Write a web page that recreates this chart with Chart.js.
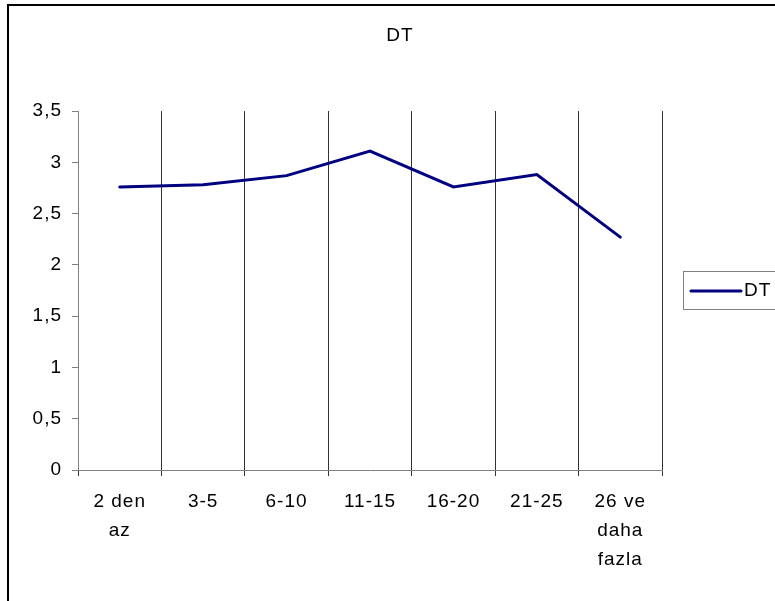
<!DOCTYPE html>
<html>
<head>
<meta charset="utf-8">
<script src="https://cdn.jsdelivr.net/npm/chart.js@4"></script>
<style>
  html, body { margin: 0; padding: 0; background: #fff; }
  #wrap { width: 775px; height: 601px; }
</style>
</head>
<body>
<div id="wrap"><canvas id="chart" width="775" height="601"></canvas></div>
<script>
const categories = [['2 den', 'az'], '3-5', '6-10', '11-15', '16-20', '21-25', ['26 ve', 'daha', 'fazla']];
const dtValues = [2.76, 2.78, 2.87, 3.11, 2.76, 2.88, 2.27];
const seriesName = 'DT';

const FONT = 'Liberation Sans, Arial, sans-serif';

// white background, excel-ish wide text, frame (only left/top visible)
const frame = {
    id: 'frame',
    beforeDraw(chart) {
        const { ctx, width, height } = chart;
        ctx.fillStyle = '#fff';
        ctx.fillRect(0, 0, width, height);
        ctx.letterSpacing = '1px';
    },
    afterDraw(chart) {
        const { ctx, width, height } = chart;
        ctx.save();
        ctx.strokeStyle = '#000';
        ctx.lineWidth = 2;
        ctx.beginPath();
        ctx.moveTo(8, height);
        ctx.lineTo(8, 5);
        ctx.lineTo(width, 5);
        ctx.stroke();
        ctx.restore();
    }
};

// title centred on the whole picture + legend box on the right
const sideLegend = {
    id: 'sideLegend',
    afterDraw(chart) {
        const { ctx } = chart;
        const ds = chart.data.datasets[0];
        ctx.save();
        ctx.fillStyle = '#000';
        ctx.font = '19px ' + FONT;
        ctx.textAlign = 'center';
        ctx.textBaseline = 'middle';
        ctx.fillText(ds.label, 400, 36);

        ctx.strokeStyle = '#808080';
        ctx.lineWidth = 1;
        ctx.strokeRect(683.5, 271.5, 100, 38);
        ctx.strokeStyle = ds.borderColor;
        ctx.lineWidth = 3;
        ctx.lineCap = 'round';
        ctx.beginPath();
        ctx.moveTo(691, 291);
        ctx.lineTo(741, 291);
        ctx.stroke();
        ctx.textAlign = 'left';
        ctx.fillText(ds.label, 744, 291);
        ctx.restore();
    }
};

new Chart(document.getElementById('chart').getContext('2d'), {
    type: 'line',
    data: {
        labels: categories,
        datasets: [{
            label: seriesName,
            data: dtValues,
            borderColor: '#000080',
            borderWidth: 3,
            borderCapStyle: 'round',
            borderJoinStyle: 'miter',
            pointRadius: 0,
            pointHoverRadius: 0,
            tension: 0,
            fill: false
        }]
    },
    options: {
        responsive: false,
        animation: false,
        layout: { padding: { left: 0, right: 113, top: 111, bottom: 0 } },
        plugins: {
            legend: { display: false },
            tooltip: { enabled: false },
            title: { display: false }
        },
        scales: {
            x: {
                offset: true,
                grid: {
                    offset: true,
                    color: '#333',
                    lineWidth: 1,
                    tickLength: 6,
                    drawOnChartArea: true
                },
                border: { color: '#808080', width: 1 },
                ticks: {
                    color: '#000',
                    font: { family: FONT, size: 19, lineHeight: 1.53 },
                    padding: 11,
                    maxRotation: 0,
                    autoSkip: false
                },
                afterFit(scale) { scale.height = 131; }
            },
            y: {
                min: 0,
                max: 3.5,
                grid: {
                    drawOnChartArea: false,
                    color: '#808080',
                    tickLength: 6
                },
                border: { color: '#808080', width: 1 },
                ticks: {
                    stepSize: 0.5,
                    color: '#000',
                    font: { family: FONT, size: 19 },
                    padding: 10,
                    callback: v => String(v).replace('.', ',')
                },
                afterFit(scale) { scale.width = 78; }
            }
        }
    },
    plugins: [frame, sideLegend]
});
</script>
</body>
</html>
